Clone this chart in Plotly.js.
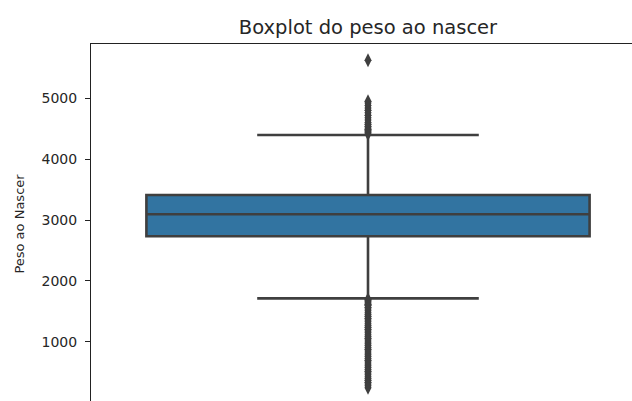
<!DOCTYPE html>
<html>
<head>
<meta charset="utf-8">
<script src="https://cdn.plot.ly/plotly-3.0.1.min.js"></script>
<style>
html,body{margin:0;padding:0;overflow:hidden;background:#fff;width:632px;height:401px;}
#chart{width:700px;height:450px;}
</style>
</head>
<body>
<div id="chart"></div>
<script>
// Summary statistics (grams)
const category = ["peso"];
const q1 = [2735];
const median = [3095];
const q3 = [3410];
const lowerWhisker = [1715];
const upperWhisker = [4395];

// Outliers (estimated)
const outliersHigh = [4410, 4430, 4450, 4470, 4490, 4510, 4540, 4570, 4600, 4640, 4680, 4720, 4760, 4800, 4840, 4880, 4920, 4950, 5620];
const outliersLow = [1700, 1680, 1660, 1640, 1620, 1600, 1570, 1540, 1510, 1480, 1450, 1420, 1390, 1360, 1330, 1300, 1270, 1240, 1210, 1180, 1150, 1120, 1090, 1060, 1030, 1000, 970, 940, 910, 880, 850, 820, 790, 760, 730, 700, 670, 640, 610, 580, 550, 520, 490, 460, 430, 400, 370, 340, 310, 280, 250];

const yTicks = [1000, 2000, 3000, 4000, 5000];

const lineCol = '#3f3f3f';
const outl = outliersHigh.concat(outliersLow);

const traces = [
  {
    type: 'box',
    x: category,
    q1: q1, median: median, q3: q3,
    lowerfence: lowerWhisker, upperfence: upperWhisker,
    width: 0.8,
    fillcolor: '#3274a1',
    line: {color: lineCol, width: 2.6},
    whiskerwidth: 0.5,
    boxpoints: false,
    hoverinfo: 'none'
  },
  {
    type: 'scatter',
    mode: 'markers',
    x: outl.map(() => category[0]),
    y: outl,
    marker: {symbol: 'diamond-tall', size: 10, color: lineCol, line: {width: 0}},
    hoverinfo: 'none'
  }
];

const layout = {
  width: 700, height: 450,
  margin: {l: 91, r: 55, t: 44, b: 46},
  paper_bgcolor: '#fff', plot_bgcolor: '#fff',
  showlegend: false,
  font: {family: 'DejaVu Sans', color: '#262626', size: 13},
  title: {
    text: 'Boxplot do peso ao nascer',
    font: {family: 'DejaVu Sans', size: 19.5, color: '#262626'},
    x: 0.5, xref: 'paper', xanchor: 'center',
    y: 1 - 27/450, yref: 'container', yanchor: 'middle'
  },
  xaxis: {
    type: 'category',
    range: [-0.5, 0.5],
    showticklabels: false,
    ticks: '',
    showgrid: false, zeroline: false,
    showline: true, mirror: true, linecolor: '#222', linewidth: 1
  },
  yaxis: {
    range: [-18, 5888],
    tickvals: yTicks,
    ticktext: yTicks.map(String),
    ticks: 'outside', ticklen: 5, tickwidth: 1, tickcolor: '#222',
    ticklabelstandoff: 5,
    showgrid: false, zeroline: false,
    showline: true, mirror: true, linecolor: '#222', linewidth: 1,
    tickfont: {family: 'DejaVu Sans', size: 14, color: '#262626'},
    title: {text: 'Peso ao Nascer', font: {family: 'DejaVu Sans', size: 13, color: '#262626'}, standoff: 14}
  }
};

Plotly.newPlot('chart', traces, layout, {displayModeBar: false, staticPlot: true});
</script>
</body>
</html>
